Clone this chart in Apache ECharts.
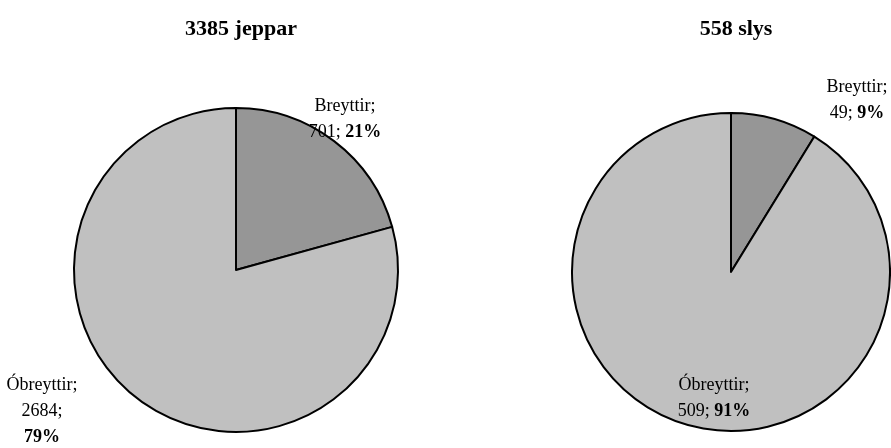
<!DOCTYPE html>
<html><head><meta charset="utf-8">
<script src="https://cdn.jsdelivr.net/npm/echarts@6/dist/echarts.min.js"></script>
<style>html,body{margin:0;padding:0;background:#fff}#c{width:891px;height:448px}</style>
</head><body><div id="c"></div>
<script>
const categories = ['Breyttir', 'Óbreyttir'];
const titles = ['3385 jeppar', '558 slys'];
const jepparValues = [701, 2684];
const slysValues = [49, 509];

const colors = ['#969696', '#c0c0c0'];
const FONT = '"Liberation Serif", "Times New Roman", serif';

function pct(v, arr) { const s = arr.reduce((a, b) => a + b, 0); return Math.round(v / s * 100) + '%'; }

function makeData(vals, wrap) {
  return vals.map((v, i) => {
    const name = categories[i];
    let fmt;
    if (wrap[i]) fmt = '{n|' + name + ';}\n{n|' + v + ';}\n{b|' + pct(v, vals) + '}';
    else fmt = '{n|' + name + ';}\n{n|' + v + '; }{b|' + pct(v, vals) + '}';
    return { name, value: v, itemStyle: { color: colors[i] }, label: { formatter: fmt } };
  });
}

const labelPos = [
  [{ x: 345, y: 119 }, { x: 42, y: 411 }],
  [{ x: 857, y: 100 }, { x: 714, y: 398 }]
];

const rich = {
  n: { fontFamily: FONT, fontSize: 18, color: '#000', lineHeight: 26 },
  b: { fontFamily: FONT, fontSize: 18, color: '#000', fontWeight: 'bold', lineHeight: 26 }
};

function pieSeries(idx, vals, center, radius, wrap) {
  return {
    type: 'pie', center, radius, startAngle: 90, clockwise: true,
    animation: false, silent: true,
    data: makeData(vals, wrap),
    itemStyle: { borderColor: '#000', borderWidth: 2 },
    label: { show: true, position: 'outside', align: 'center', rich },
    labelLine: { show: false },
    labelLayout: function (p) {
      const pos = labelPos[idx][p.dataIndex];
      return { x: pos.x, y: pos.y, align: 'center', verticalAlign: 'middle' };
    }
  };
}

const chart = echarts.init(document.getElementById('c'), null, { renderer: 'canvas' });
chart.setOption({
  backgroundColor: '#fff',
  title: [
    { text: titles[0], left: 236, top: 13, textAlign: 'center', textStyle: { fontFamily: FONT, fontSize: 22, fontWeight: 'bold', color: '#000' } },
    { text: titles[1], left: 731, top: 13, textAlign: 'center', textStyle: { fontFamily: FONT, fontSize: 22, fontWeight: 'bold', color: '#000' } }
  ],
  series: [
    pieSeries(0, jepparValues, [236, 270], 162, [false, true]),
    pieSeries(1, slysValues, [731, 272], 159, [false, false])
  ]
});
</script></body></html>
